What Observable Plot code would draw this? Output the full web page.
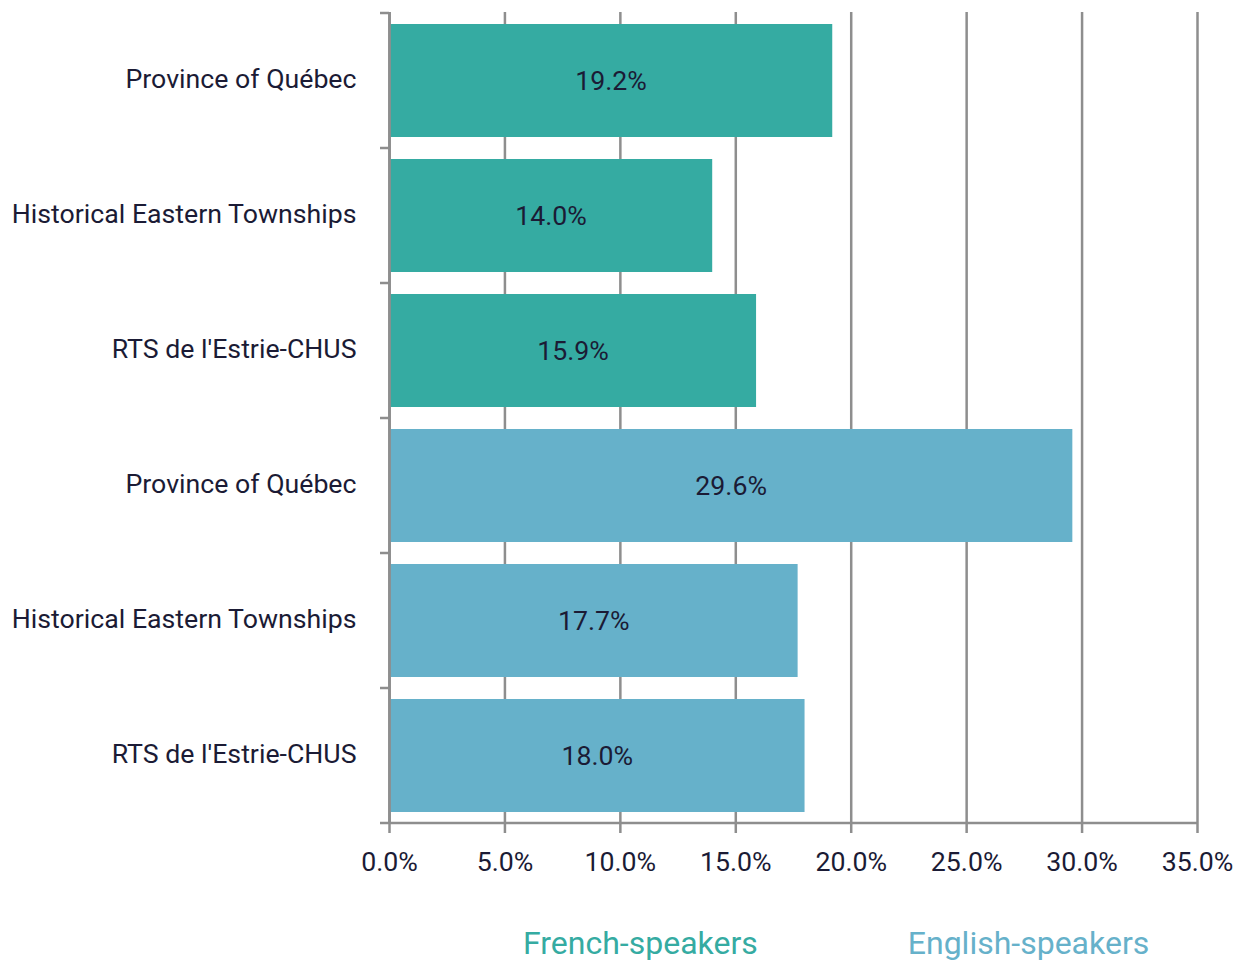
<!DOCTYPE html>
<html>
<head>
<meta charset="utf-8">
<script src="https://cdn.jsdelivr.net/npm/d3@7"></script>
<script src="https://cdn.jsdelivr.net/npm/@observablehq/plot@0.6"></script>
<style>
  html, body { margin: 0; padding: 0; background: #fff; }
  body { width: 1245px; height: 960px; overflow: hidden; font-family: Roboto, sans-serif; }
  #legend { display: flex; margin-left: 523px; margin-top: 23px; font-size: 32px; line-height: 40px; }
  #legend span { display: inline-block; }
</style>
</head>
<body>
<div id="chart"></div>
<div id="legend"></div>
<script>
const labels = ["Province of Québec", "Historical Eastern Townships", "RTS de l'Estrie-CHUS",
                "Province of Québec", "Historical Eastern Townships", "RTS de l'Estrie-CHUS"];
const values = [19.2, 14.0, 15.9, 29.6, 17.7, 18.0];
const groups = ["French-speakers", "French-speakers", "French-speakers",
                "English-speakers", "English-speakers", "English-speakers"];
const groupNames = ["French-speakers", "English-speakers"];
const groupColors = ["#35aba2", "#66b1ca"];
const xTicks = [0, 5, 10, 15, 20, 25, 30, 35];

const keys = labels.map((_, i) => String(i));
const data = labels.map((l, i) => ({key: keys[i], label: l, value: values[i], group: groups[i]}));

const gray = "#8e8e8e";
const ink = "#1b1b35";
const fs = 26.7;

const plot = Plot.plot({
  width: 1245,
  height: 900,
  marginLeft: 389,
  marginRight: 48,
  marginTop: 12,
  marginBottom: 76,
  style: {fontFamily: "Roboto, sans-serif", fontSize: fs + "px", color: ink, background: "#fff"},
  x: {domain: [0, 35], ticks: xTicks, tickFormat: d => d.toFixed(1) + "%"},
  y: {domain: keys, paddingInner: 0.165, paddingOuter: 0.0825, tickFormat: k => labels[+k]},
  color: {domain: groupNames, range: groupColors},
  marks: [
    Plot.gridX({ticks: xTicks, stroke: gray, strokeOpacity: 1, strokeWidth: 2.5}),
    Plot.barX(data, {x: "value", y: "key", fill: "group"}),
    Plot.ruleX([0], {stroke: gray, strokeWidth: 2.8}),
    Plot.text(data, {x: d => d.value / 2, y: "key", text: d => d.value.toFixed(1) + "%", fill: ink, fontSize: fs}),
    Plot.axisX({ticks: xTicks, tickFormat: d => d.toFixed(1) + "%", tickSize: 9, tickPadding: 19, stroke: gray, strokeWidth: 2.5, strokeOpacity: 1, fill: ink, fontSize: fs, label: null}),
    Plot.axisY({tickSize: 0, tickPadding: 33, dy: -2, tickFormat: k => labels[+k], fill: ink, fontSize: fs, label: null})
  ]
});

document.getElementById("chart").appendChild(plot);

// band-boundary ticks on the y axis and the x-axis baseline, derived from the plot's scales
const ys = plot.scale("y");
const xs = plot.scale("x");
const bw = ys.bandwidth, step = ys.step;
const half = (step - bw) / 2;
const bounds = keys.map(k => ys.apply(k) - half);
bounds.push(ys.apply(keys[keys.length - 1]) + bw + half);
const x0 = xs.apply(0), x1 = xs.apply(35);
const svg = d3.select(plot.tagName.toLowerCase() === "svg" ? plot : plot.querySelector("svg"));
const g = svg.append("g").attr("stroke", gray).attr("stroke-width", 2.5);
g.selectAll("line.yt").data(bounds).join("line")
  .attr("x1", x0 - 9).attr("x2", x0).attr("y1", d => d).attr("y2", d => d);
g.append("line").attr("x1", x0).attr("x2", x1).attr("y1", bounds[bounds.length - 1]).attr("y2", bounds[bounds.length - 1]);

const legend = d3.select("#legend");
legend.selectAll("span").data(groupNames).join("span")
  .style("color", (d, i) => groupColors[i])
  .style("margin-right", (d, i) => i === 0 ? "150px" : "0")
  .text(d => d);
</script>
</body>
</html>
